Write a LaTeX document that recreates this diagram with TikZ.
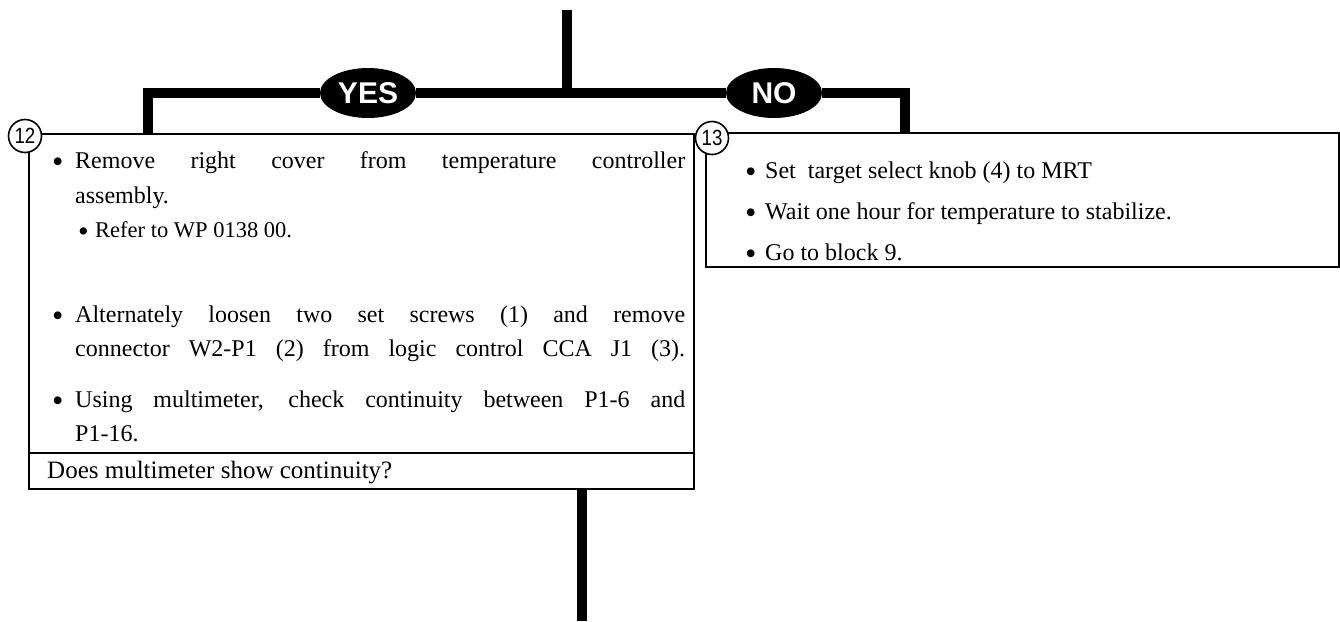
\documentclass[tikz,border=0pt]{standalone}
\usepackage{fontspec}
\setmainfont{Liberation Serif}
\newfontfamily\signfont{Liberation Sans}
\usetikzlibrary{shapes.geometric,positioning}

\newcommand{\bul}[1][23pt]{\makebox[#1][l]{\raisebox{-0.4ex}{\scalebox{1.35}{\textbullet}}}}
\newcommand{\fullline}[1]{\makebox[610pt][s]{#1}}

\begin{document}
\begin{tikzpicture}[x=1pt,y=-1pt,
  flow/.style={line width=10pt,black},
  stepbox/.style={draw,line width=2pt,fill=white,inner sep=0pt,anchor=north west},
  answer/.style={ellipse,fill=black,text=white,minimum width=96pt,minimum height=50pt,
    inner sep=0pt,font=\signfont\bfseries\fontsize{30}{30}\selectfont},
  stepno/.style={circle,draw,line width=1.6pt,fill=white,minimum size=33pt,inner sep=0pt,
    font=\signfont\fontsize{22}{22}\selectfont},
  txt/.style={anchor=base west,inner sep=0pt,font=\fontsize{24}{29}\selectfont}
]
\useasboundingbox (0,0) rectangle (1340,621);

% the two step boxes
\node[stepbox,minimum width=665pt,minimum height=355pt] (box12) at (28,133) {};
\node[stepbox,minimum width=633pt,minimum height=134pt] (box13) at (705,132) {};
\coordinate (divy) at (0,453);
\draw[line width=2pt] (box12.west |- divy) -- (box12.east |- divy);

% flow lines (decision branch)
\coordinate (top) at (567,10);
\coordinate (join) at (567,93);
\coordinate (yesdrop) at (148,133);
\coordinate (nodrop) at (905,132);
\coordinate (bottom) at (582,621);
\node[answer] (yes) at (368,93) {YES};
\node[answer] (no) at (774,93) {NO};
\draw[flow] (top) -- (join);
\draw[flow] (join) -- (yes) -| (yesdrop);
\draw[flow] (join) -- (no) -| (nodrop);
\draw[flow] (box12.south -| bottom) -- (bottom);

% step numbers
\node[stepno] (n12) at (25,136) {\scalebox{0.85}[1]{12}};
\node[stepno] (n13) at (712,138) {\scalebox{0.85}[1]{13}};

% step 12 text
\node[txt] (l1) at (52,168) {\bul\fullline{Remove right cover from temperature controller}};
\node[txt] (l2) at (75,203) {assembly.};
\node[txt,font=\fontsize{22.5}{27}\selectfont] (l3) at (78,237) {\bul[17pt]Refer to WP 0138 00.};
\node[txt] (l4) at (52,322) {\bul\fullline{Alternately loosen two set screws (1) and remove}};
\node[txt] (l5) at (75,356) {\fullline{connector W2-P1 (2) from logic control CCA J1 (3).}};
\node[txt] (l6) at (52,407) {\bul\fullline{Using multimeter, check continuity between P1-6 and}};
\node[txt] (l7) at (75,441) {P1-16.};
\node[txt,font=\fontsize{25}{30}\selectfont] (q12) at (47,478) {Does multimeter show continuity?};

% step 13 text
\node[txt] (r1) at (745,178) {\bul[20pt]Set\ \ target select knob (4) to MRT};
\node[txt] (r2) at (745,219) {\bul[20pt]Wait one hour for temperature to stabilize.};
\node[txt] (r3) at (745,260) {\bul[20pt]Go to block 9.};

\end{tikzpicture}
\end{document}
